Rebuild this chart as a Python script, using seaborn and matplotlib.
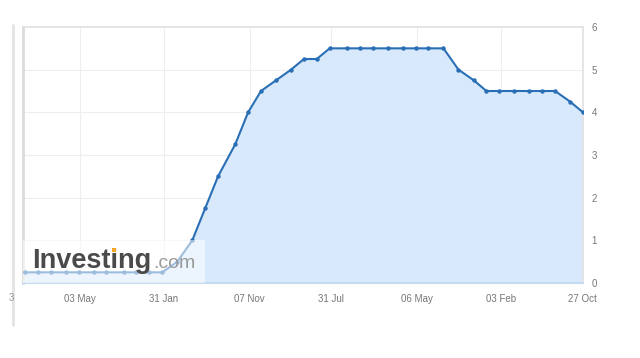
import matplotlib
matplotlib.use("Agg")
import matplotlib.pyplot as plt
import matplotlib.lines as mlines
import matplotlib.patches as mpatches
import seaborn as sns
import pandas as pd

# ---- data ----
meeting_dates = [
    "2020-09-16", "2020-11-05", "2020-12-16",
    "2021-01-27", "2021-03-17", "2021-04-28", "2021-06-16", "2021-07-28", "2021-09-22", "2021-11-03", "2021-12-15",
    "2022-01-26", "2022-03-16", "2022-05-04", "2022-06-15", "2022-07-27", "2022-09-21", "2022-11-02", "2022-12-14",
    "2023-02-01", "2023-03-22", "2023-05-03", "2023-06-14", "2023-07-26", "2023-09-20", "2023-11-01", "2023-12-13",
    "2024-01-31", "2024-03-20", "2024-05-01", "2024-06-12", "2024-07-31", "2024-09-18", "2024-11-07", "2024-12-18",
    "2025-01-29", "2025-03-19", "2025-05-07", "2025-06-18", "2025-07-30", "2025-09-17", "2025-10-29",
]
rates = [
    0.25, 0.25, 0.25,
    0.25, 0.25, 0.25, 0.25, 0.25, 0.25, 0.25, 0.25,
    0.25, 0.50, 1.00, 1.75, 2.50, 3.25, 4.00, 4.50,
    4.75, 5.00, 5.25, 5.25, 5.50, 5.50, 5.50, 5.50,
    5.50, 5.50, 5.50, 5.50, 5.50, 5.00, 4.75, 4.50,
    4.50, 4.50, 4.50, 4.50, 4.50, 4.25, 4.00,
]
x_tick_dates = ["2021-05-03", "2022-01-31", "2022-11-07", "2023-07-31", "2024-05-06", "2025-02-03", "2025-10-27"]
x_tick_labels = ["03 May", "31 Jan", "07 Nov", "31 Jul", "06 May", "03 Feb", "27 Oct"]
y_tick_values = [0, 1, 2, 3, 4, 5, 6]
x_range = ["2020-10-29", "2025-10-29"]

df = pd.DataFrame({"date": pd.to_datetime(meeting_dates), "rate": rates})

# ---- style ----
sns.set_theme(style="white")
plt.rcParams["font.family"] = ["Liberation Sans", "DejaVu Sans"]

fig = plt.figure(figsize=(6.4, 3.58), dpi=100)
ax = fig.add_axes([23 / 640, 1 - 283 / 358, 560 / 640, 256 / 358])

line_color = "#2a6fb5"
fill_color = "#d7e9fb"

ax.fill_between(df["date"], df["rate"], 0, color=fill_color, zorder=1, linewidth=0)
sns.lineplot(data=df, x="date", y="rate", ax=ax, color=line_color, linewidth=1.5,
             marker="o", markersize=3.2, markeredgewidth=0, zorder=3)

ax.set_xlim(pd.to_datetime(x_range[0]), pd.to_datetime(x_range[1]))
ax.set_ylim(0, 6)

ax.set_xticks(pd.to_datetime(x_tick_dates))
ax.set_xticklabels(x_tick_labels)
ax.set_yticks(y_tick_values)
ax.set_yticklabels([str(v) for v in y_tick_values])
ax.yaxis.tick_right()
ax.tick_params(axis="both", length=0, labelsize=7, colors="#777777")
ax.tick_params(axis="x", pad=8)
ax.tick_params(axis="y", pad=6)
ax.set_xlabel("")
ax.set_ylabel("")

ax.grid(True, color="#eeeeee", linewidth=0.8, zorder=0)
ax.set_axisbelow(True)

for side in ["top", "right"]:
    ax.spines[side].set_color("#e2e2e2")
    ax.spines[side].set_linewidth(1.2)
ax.spines["left"].set_color("#dcdcdc")
ax.spines["left"].set_linewidth(2.0)
ax.spines["bottom"].set_color("#c6daf0")
ax.spines["bottom"].set_linewidth(1.5)

# watermark
wm = mpatches.Rectangle((0, 0), (205 - 23) / 560, (283 - 240) / 256, transform=ax.transAxes,
                        facecolor="white", alpha=0.55, edgecolor="none", zorder=4)
ax.add_patch(wm)
wm_x = 9 / 560
wm_y = (283 - 268) / 256
wm_size = 19.5
t_main = ax.text(wm_x, wm_y, "Investing", transform=ax.transAxes, fontsize=wm_size,
                 fontweight="bold", color="#4a4a4a", ha="left", va="baseline", zorder=5)
ax.text(130 / 560, wm_y, ".com", transform=ax.transAxes, fontsize=14,
        color="#9a9a9a", ha="left", va="baseline", zorder=5)

# orange dot over the "i" of the watermark
fig.canvas.draw()
renderer = fig.canvas.get_renderer()
probe1 = ax.text(wm_x, wm_y, "Investi", transform=ax.transAxes, fontsize=wm_size,
                 fontweight="bold", alpha=0)
probe2 = ax.text(wm_x, wm_y, "Invest", transform=ax.transAxes, fontsize=wm_size,
                 fontweight="bold", alpha=0)
w1 = probe1.get_window_extent(renderer).x1
w0 = probe2.get_window_extent(renderer).x1
probe1.remove()
probe2.remove()
dot_px = (w0 + w1) / 2
em_px = wm_size * 100 / 72
base_px = ax.transAxes.transform((0, wm_y))[1]
dot_py = base_px + 0.665 * em_px
dx, dy = ax.transAxes.inverted().transform((dot_px, dot_py))
ax.add_patch(mpatches.Rectangle((dx - 2.2 / 560, dy - 2.2 / 256), 4.4 / 560, 4.4 / 256,
                                transform=ax.transAxes, facecolor="#f5a623",
                                edgecolor="none", zorder=6))

# outer vertical rule on the left
fig.add_artist(mlines.Line2D([13 / 640, 13 / 640], [1 - 25 / 358, 1 - 325 / 358],
                             color="#e4e4e4", linewidth=2.0))
fig.text(14 / 640, 1 - 298 / 358, "3", fontsize=7, color="#999999", ha="right", va="center")

fig.savefig("out.png", dpi=100)
